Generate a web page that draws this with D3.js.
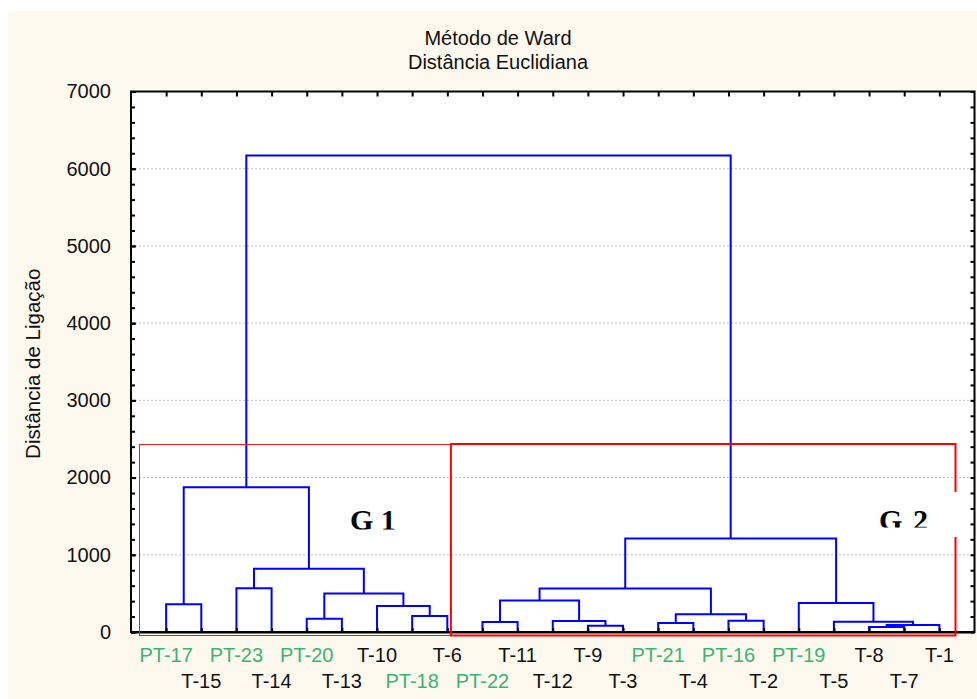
<!DOCTYPE html>
<html>
<head>
<meta charset="utf-8">
<script src="https://cdn.jsdelivr.net/npm/d3@7"></script>
<style>
  html, body { margin: 0; padding: 0; background: #ffffff; }
  svg { display: block; }
</style>
</head>
<body>
<svg id="chart" width="977" height="699"></svg>
<script>
// ---------------- DATA ----------------
const titleLines = ["Método de Ward", "Distância Euclidiana"];
const yAxisTitle = "Distância de Ligação";
const leaves = ["PT-17","T-15","PT-23","T-14","PT-20","T-13","T-10","PT-18","T-6",
                "PT-22","T-11","T-12","T-9","T-3","PT-21","T-4","PT-16","T-2",
                "PT-19","T-5","T-8","T-7","T-1"];
const greenLeaves = ["PT-17","PT-23","PT-20","PT-18","PT-22","PT-21","PT-16","PT-19"];
// merges: [name, childA, childB, linkage distance]
const merges = [
  ["m1","PT-17","T-15",360],
  ["m2","PT-23","T-14",567],
  ["m3","PT-20","T-13",173],
  ["m4","PT-18","T-6",208],
  ["m5","T-10","m4",338],
  ["m6","m3","m5",498],
  ["m7","m2","m6",818],
  ["m8","m1","m7",1876],
  ["m9","PT-22","T-11",130],
  ["m10","T-9","T-3",82],
  ["m11","T-12","m10",143],
  ["m12","m9","m11",407],
  ["m13","PT-21","T-4",117],
  ["m14","PT-16","T-2",147],
  ["m15","m13","m14",229],
  ["m16","m12","m15",563],
  ["m17","T-8","T-7",65],
  ["m18","m17","T-1",91],
  ["m19","T-5","m18",134],
  ["m20","PT-19","m19",377],
  ["m21","m16","m20",1210],
  ["m22","m8","m21",6170]
];
const yMajorTicks = [0,1000,2000,3000,4000,5000,6000,7000];
const yMinorStep = 200;
const yMax = 7000;
const groupLabels = ["G 1", "G 2"];

// ---------------- LAYOUT ----------------
const svg = d3.select("#chart");
const W = 977, H = 699;
const plot = {left: 131, right: 974.5, top: 91.5, bottom: 632};
const green = "#3cb371";
const sans = "Liberation Sans, Arial, sans-serif";

svg.append("rect").attr("x", 8).attr("y", 11).attr("width", W - 8).attr("height", H - 11)
  .attr("fill", "#fdf9ef");

const x = d3.scalePoint().domain(leaves).range([plot.left, plot.right]).padding(1);
const y = d3.scaleLinear().domain([0, yMax]).range([plot.bottom, plot.top]);

// plot background
svg.append("rect").attr("x", plot.left).attr("y", plot.top)
  .attr("width", plot.right - plot.left).attr("height", plot.bottom - plot.top)
  .attr("fill", "#ffffff");

// gridlines
svg.append("g").selectAll("line").data(yMajorTicks.filter(d => d > 0 && d < yMax)).join("line")
  .attr("x1", plot.left).attr("x2", plot.right)
  .attr("y1", d => y(d)).attr("y2", d => y(d))
  .attr("stroke", "#c4c4c4").attr("stroke-width", 1).attr("stroke-dasharray", "2,2");

// title
svg.append("g").selectAll("text").data(titleLines).join("text")
  .attr("x", 498).attr("y", (d, i) => 45 + i * 24)
  .attr("text-anchor", "middle")
  .attr("font-family", sans).attr("font-size", 20)
  .attr("fill", "#111").text(d => d);

// y axis title
svg.append("text")
  .attr("transform", `translate(40,${(plot.top + plot.bottom) / 2 + 2}) rotate(-90)`)
  .attr("text-anchor", "middle")
  .attr("font-family", sans).attr("font-size", 20.5)
  .attr("fill", "#111").text(yAxisTitle);

// y axes (minor + major, inward ticks) left & right
const minorTicks = d3.range(0, yMax + 1, yMinorStep);
function styleAxis(g) {
  g.selectAll("path").remove();
  g.selectAll("line").attr("stroke", "#000").attr("stroke-width", 2);
}
svg.append("g").attr("transform", `translate(${plot.left},0)`)
  .call(d3.axisLeft(y).tickValues(minorTicks).tickSize(-4).tickFormat(""))
  .call(styleAxis);
const yAx = svg.append("g").attr("transform", `translate(${plot.left},0)`)
  .call(d3.axisLeft(y).tickValues(yMajorTicks).tickSize(-5).tickPadding(20).tickFormat(d3.format("d")))
  .call(styleAxis);
yAx.selectAll("text").attr("font-family", sans)
  .attr("font-size", 20).attr("fill", "#111");
svg.append("g").attr("transform", `translate(${plot.right},0)`)
  .call(d3.axisRight(y).tickValues(minorTicks).tickSize(-4).tickFormat(""))
  .call(styleAxis);

// x axes: top ticks and bottom ticks at leaves
svg.append("g").attr("transform", `translate(0,${plot.top})`)
  .call(d3.axisTop(x).tickSize(-5).tickFormat(""))
  .call(styleAxis);

// dendrogram
const pos = {};
leaves.forEach(l => pos[l] = {x: x(l), h: 0});
const segs = [];
merges.forEach(([name, a, b, h]) => {
  const A = pos[a], B = pos[b];
  segs.push([[A.x, y(A.h)], [A.x, y(h)], [B.x, y(h)], [B.x, y(B.h)]]);
  pos[name] = {x: (A.x + B.x) / 2, h: h};
});
const line = d3.line();
svg.append("g").selectAll("path").data(segs).join("path")
  .attr("d", d => line(d)).attr("fill", "none")
  .attr("stroke", "#0000ff").attr("stroke-width", 2);

svg.append("g").attr("transform", `translate(0,${plot.bottom})`)
  .call(d3.axisBottom(x).tickSize(-4).tickFormat(""))
  .call(styleAxis);

// frame
svg.append("rect").attr("x", plot.left).attr("y", plot.top)
  .attr("width", plot.right - plot.left).attr("height", plot.bottom - plot.top)
  .attr("fill", "none").attr("stroke", "#000").attr("stroke-width", 2);
svg.append("line").attr("x1", plot.left).attr("x2", plot.right)
  .attr("y1", plot.bottom + 0.5).attr("y2", plot.bottom + 0.5)
  .attr("stroke", "#000").attr("stroke-width", 2);

// leaf labels (two staggered rows)
svg.append("g").selectAll("text").data(leaves).join("text")
  .attr("x", d => x(d)).attr("y", (d, i) => i % 2 === 0 ? 662 : 688)
  .attr("text-anchor", "middle")
  .attr("font-family", sans).attr("font-size", 20)
  .attr("fill", d => greenLeaves.includes(d) ? green : "#111")
  .text(d => d);

// group boxes
const boxTop = 444, boxBottom = 635.5;
const splitX = (x("T-6") + x("PT-22")) / 2 - 14;
svg.append("rect").attr("x", 139.5).attr("y", boxTop)
  .attr("width", splitX - 139.5).attr("height", boxBottom - boxTop)
  .attr("fill", "none").attr("stroke", "#f01c1c").attr("stroke-width", 1)
  .attr("shape-rendering", "crispEdges");
svg.append("rect").attr("x", splitX).attr("y", boxTop)
  .attr("width", 955.5 - splitX).attr("height", boxBottom - boxTop)
  .attr("fill", "none").attr("stroke", "#ff0000").attr("stroke-width", 2);

// group labels in clipped white text boxes
const defs = svg.append("defs");
defs.append("clipPath").attr("id", "clipG1").append("rect")
  .attr("x", 330).attr("y", 495).attr("width", 90).attr("height", 34.5);
defs.append("clipPath").attr("id", "clipG2").append("rect")
  .attr("x", 860).attr("y", 492).attr("width", 98).attr("height", 35.5);
svg.append("rect").attr("x", 860).attr("y", 492).attr("width", 98).attr("height", 45)
  .attr("fill", "#ffffff");
svg.append("text").attr("clip-path", "url(#clipG1)")
  .attr("x", 350).attr("y", 530)
  .attr("font-family", "Liberation Serif, Times New Roman, serif").attr("font-weight", "bold")
  .attr("font-size", 30).attr("fill", "#000").text(groupLabels[0]);
const gl2 = svg.append("text").attr("clip-path", "url(#clipG2)")
  .attr("y", 530)
  .attr("font-family", "Liberation Serif, Times New Roman, serif").attr("font-weight", "bold")
  .attr("font-size", 30).attr("fill", "#000");
const parts = groupLabels[1].split(" ");
gl2.append("tspan").attr("x", 879).text(parts[0]);
gl2.append("tspan").attr("x", 913).text(parts[1]);
</script>
</body>
</html>
